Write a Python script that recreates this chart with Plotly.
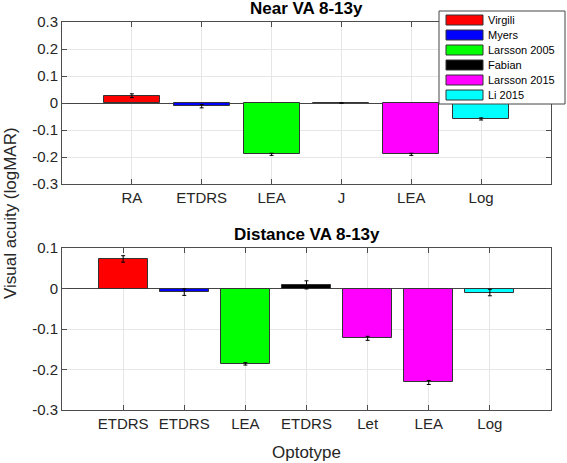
import plotly.graph_objects as go
from plotly.subplots import make_subplots

# ---------------- data ----------------
studies = ["Virgili", "Myers", "Larsson 2005", "Fabian", "Larsson 2015", "Li 2015"]
study_colors = ["#ff0000", "#0000ff", "#00ff00", "#000000", "#ff00ff", "#00ffff"]

near_labels = ["RA", "ETDRS", "LEA", "J", "LEA", "Log"]
near_study = ["Virgili", "Myers", "Larsson 2005", "Fabian", "Larsson 2015", "Li 2015"]
near_values = [0.027, -0.012, -0.190, 0.0, -0.190, -0.059]
near_err = [0.007, 0.006, 0.004, 0.0, 0.004, 0.004]

dist_labels = ["ETDRS", "ETDRS", "LEA", "ETDRS", "Let", "LEA", "Log"]
dist_study = ["Virgili", "Myers", "Larsson 2005", "Fabian", "Larsson 2015", "Larsson 2015", "Li 2015"]
dist_values = [0.073, -0.009, -0.186, 0.009, -0.123, -0.232, -0.010]
dist_err = [0.008, 0.008, 0.003, 0.010, 0.005, 0.005, 0.008]

near_yticks = [-0.3, -0.2, -0.1, 0, 0.1, 0.2, 0.3]
dist_yticks = [-0.3, -0.2, -0.1, 0, 0.1]

near_title = "Near VA 8-13y"
dist_title = "Distance VA 8-13y"
y_title = "Visual acuity (logMAR)"
x_title = "Optotype"

# ---------------- layout constants (pixels) ----------------
W, H = 567, 463
L, R, T, B = 62, 16, 22, 53
PW, PH = W - L - R, H - T - B
FONT = "Arial, Liberation Sans, sans-serif"
TXT = "#262626"
AX = "#4d4d4d"
GRID = "#e6e6e6"


def px_x(px):
    return (px - L) / PW


def px_y(py):
    return (H - B - py) / PH


fig = make_subplots(rows=2, cols=1, vertical_spacing=0.0)
color_of = dict(zip(studies, study_colors))


def add_panel(labels, st, vals, errs, row):
    xs = list(range(1, len(labels) + 1))
    for s in studies:
        idx = [i for i, v in enumerate(st) if v == s]
        if not idx:
            continue
        fig.add_trace(
            go.Bar(
                x=[xs[i] for i in idx],
                y=[vals[i] for i in idx],
                width=0.8,
                name=s,
                showlegend=False,
                marker=dict(color=color_of[s], line=dict(color="#333333", width=1)),
                error_y=dict(type="data", array=[errs[i] for i in idx], visible=True,
                             color="#000000", thickness=1, width=2),
            ),
            row=row, col=1,
        )
    return xs


nx = add_panel(near_labels, near_study, near_values, near_err, 1)
dx = add_panel(dist_labels, dist_study, dist_values, dist_err, 2)

top_dom = [px_y(184), px_y(22)]
bot_dom = [px_y(410), px_y(248)]

common_x = dict(showline=True, linecolor=AX, linewidth=1, mirror="ticks", ticks="inside",
                ticklen=5, tickcolor=AX, showgrid=True, gridcolor=GRID, zeroline=False,
                tickfont=dict(family=FONT, size=15, color=TXT))
common_y = dict(showline=True, linecolor=AX, linewidth=1, mirror="ticks", ticks="inside",
                ticklen=5, tickcolor=AX, showgrid=True, gridcolor=GRID, zeroline=True,
                zerolinecolor="#444444", zerolinewidth=1,
                tickfont=dict(family=FONT, size=15, color=TXT))

fig.update_xaxes(range=[0, len(near_labels) + 1], tickvals=nx, ticktext=near_labels,
                 domain=[0, 1], row=1, col=1, **common_x)
fig.update_xaxes(range=[0, len(dist_labels) + 1], tickvals=dx, ticktext=dist_labels,
                 domain=[0, 1], row=2, col=1, **common_x)
fig.update_yaxes(range=[-0.3, 0.3], tickvals=near_yticks,
                 ticktext=[("%g" % v) for v in near_yticks],
                 domain=top_dom, row=1, col=1, **common_y)
fig.update_yaxes(range=[-0.3, 0.1], tickvals=dist_yticks,
                 ticktext=[("%g" % v) for v in dist_yticks],
                 domain=bot_dom, row=2, col=1, **common_y)

annotations = [
    dict(text="<b>%s</b>" % near_title, x=0.5, y=px_y(9), xref="paper", yref="paper",
         showarrow=False, font=dict(family=FONT, size=17, color="#000000"),
         xanchor="center", yanchor="middle"),
    dict(text="<b>%s</b>" % dist_title, x=0.5, y=px_y(234), xref="paper", yref="paper",
         showarrow=False, font=dict(family=FONT, size=17, color="#000000"),
         xanchor="center", yanchor="middle"),
    dict(text=y_title, x=px_x(10), y=px_y(213), xref="paper", yref="paper",
         showarrow=False, textangle=-90, font=dict(family=FONT, size=17, color=TXT),
         xanchor="center", yanchor="middle"),
    dict(text=x_title, x=0.5, y=px_y(452), xref="paper", yref="paper",
         showarrow=False, font=dict(family=FONT, size=17, color=TXT),
         xanchor="center", yanchor="middle"),
]

# manual legend (MATLAB style: wide swatches, tight rows)
shapes = [dict(type="rect", xref="paper", yref="paper",
               x0=px_x(439), x1=px_x(565), y0=px_y(104), y1=px_y(11),
               line=dict(color="#444444", width=1), fillcolor="#ffffff", layer="above")]
for i, (s, c) in enumerate(zip(studies, study_colors)):
    cy = 20 + 15 * i
    shapes.append(dict(type="rect", xref="paper", yref="paper",
                       x0=px_x(446), x1=px_x(483), y0=px_y(cy + 5), y1=px_y(cy - 5),
                       line=dict(color="#333333", width=1), fillcolor=c, layer="above"))
    annotations.append(dict(text=s, x=px_x(486), y=px_y(cy), xref="paper", yref="paper",
                            showarrow=False, xanchor="left", yanchor="middle",
                            font=dict(family=FONT, size=11, color="#000000")))

fig.update_layout(
    width=W, height=H,
    margin=dict(l=L, r=R, t=T, b=B),
    paper_bgcolor="#ffffff", plot_bgcolor="#ffffff",
    barmode="overlay", bargap=0,
    showlegend=False,
    annotations=annotations, shapes=shapes,
    font=dict(family=FONT, color=TXT),
)

fig.write_html("out.html", config={"displayModeBar": False},
               post_script="document.body.style.margin='0';")
